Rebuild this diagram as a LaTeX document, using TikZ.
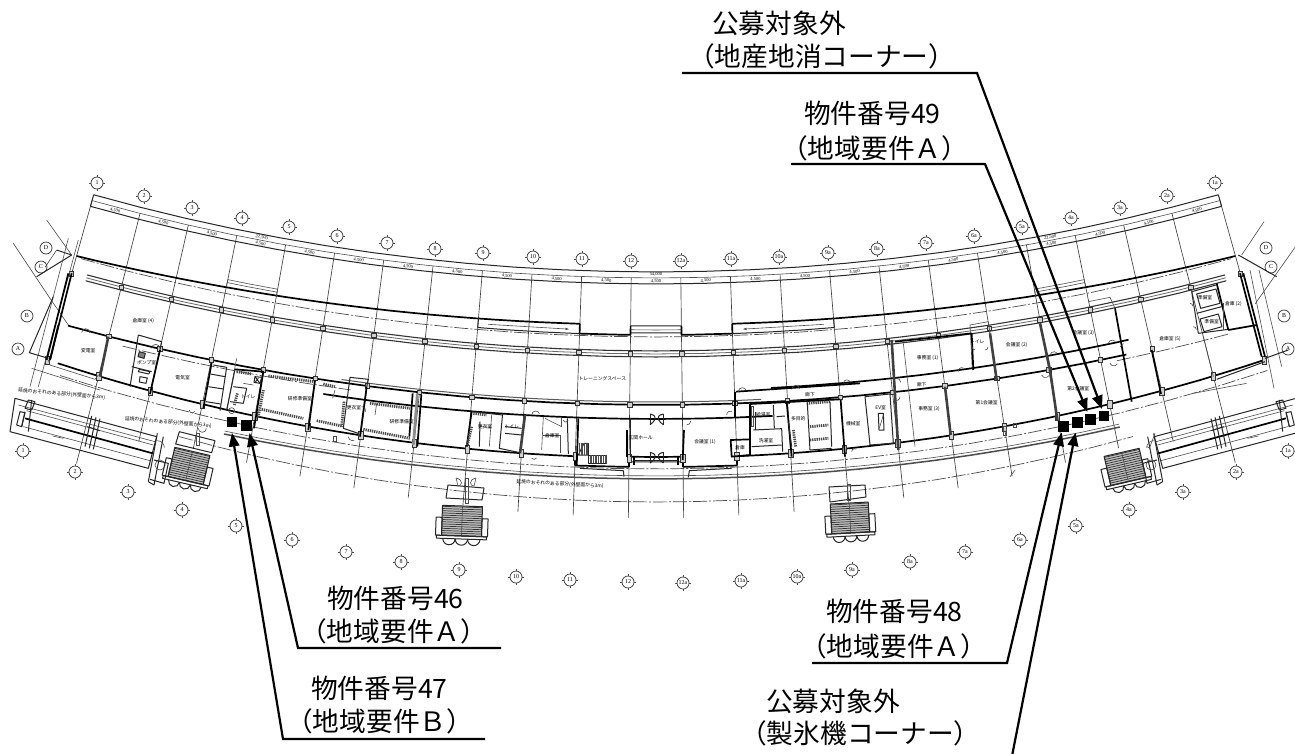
\documentclass[tikz,border=0pt]{standalone}
\usepackage{fontspec}
\setmainfont{Noto Sans CJK JP}
\newfontfamily\bubfont{Liberation Serif}
\usetikzlibrary{arrows.meta,calc}
\newcommand{\PP}[2]{({90+1.358*(#1)}:{#2})}
\newcommand{\AR}[4]{\draw[#1] plot[domain=#2:#3,samples=25,variable=\q] ({90+1.358*\q}:{#4});}
\newcommand{\lab}[3]{\node[lbl] (#1) at #2 {#3};}
\newcommand{\stairs}[3]{%
  \begin{scope}[shift={#1},rotate=#2]
    \fill[black!25] (-#3,-15) rectangle (#3,15);
    \foreach \k in {-14,-11.8,...,15}{\draw[black!80,line width=.7] (-#3,\k) -- (#3,\k);}
    \draw[med] (-#3,-15) rectangle (#3,15);
    \draw[thn] (0,-15) -- (0,15);
    \draw[med] (-#3-5,15) -- (#3+5,15) -- (#3+5,18) -- (-#3-5,18) -- cycle;
    \foreach \k in {-1,0,1}{\draw[med] ({\k*#3*.62+#3*.31},18) arc[start angle=0,end angle=180,radius={#3*.31}];}
    \draw[med] (-#3-6,-3) rectangle (-#3,15);
    \draw[med] (#3,-3) rectangle (#3+6,15);
  \end{scope}}
\newcommand{\terrace}{%
  \begin{scope}[z1]
    \draw[med] (45,685) -- (470,800) -- (445,895) -- (30,785) -- cycle;
    \draw[thn] (55,705) -- (465,815);
    \draw[thn] (80,722) -- (460,825);
    \draw[wall] (75,745) -- (458,850);
    \draw[thn] (70,770) -- (450,872);
    \draw[med] (75,725) -- (65,770);
    \draw[med] (60,725) -- (75,728) -- (65,770) -- (50,765) -- cycle;
    \draw[med] (95,690) -- (85,785);
    \draw[med] (85,690) -- (105,695) -- (95,720) -- (75,715) -- cycle;
    \draw[med] (275,738) -- (255,830);
    \draw[med] (288,742) -- (268,835);
    \draw[med] (300,746) -- (280,838);
    \draw[med] (262,770) -- (300,782);
    \draw[med] (472,790) -- (445,935);
    \draw[med] (490,800) -- (462,945);
    \draw[med] (445,935) -- (462,945);
    \draw[med] (462,870) -- (505,880) -- (492,940) -- (450,928);
    \draw[thn] (480,885) circle[radius=15];
    \draw[thn] (472,812) arc[start angle=90,end angle=0,radius=7pt];
    \draw[thn] (158,798) -- (190,805);
  \end{scope}}
\tikzset{
  wall/.style={black,line width=1.7,line join=round},
  med/.style={black!85,line width=1,line join=round},
  thn/.style={black!70,line width=.6},
  dd/.style={black!70,line width=.7,dash pattern=on 14pt off 2pt on 2pt off 2pt},
  bead/.style={black!70,line width=2.8,dash pattern=on 1.3pt off .9pt},
  dbl/.style={black!75,line width=2.6},
  bub/.style={circle,draw=black!80,line width=.7,minimum size=12,inner sep=0,font=\bubfont\fontsize{6}{6}\selectfont},
  lbl/.style={anchor=base west,inner sep=0,font=\fontsize{26.7}{30}\selectfont,text=black},
  tiny/.style={inner sep=0,text=black,font=\fontsize{4.8}{5}\selectfont},
  dim/.style={inner sep=0,text=black,font=\bubfont\fontsize{4.5}{5}\selectfont},
  sqb/.style={fill=black,draw=none,inner sep=0,minimum width=10.6,minimum height=10.6},
  lead/.style={black,line width=2.2,line join=miter},
  arrw/.style={lead,-{Triangle[length=13.5pt,width=10.5pt]}},
  z1/.style={shift={(0,170)},x=0.33333pt,y=-0.33333pt},
  z2/.style={shift={(430,230)},x=0.33333pt,y=-0.33333pt},
  z3/.style={shift={(860,170)},x=0.33333pt,y=-0.33333pt}
}
\begin{document}
\begin{tikzpicture}[x=1pt,y=-1pt]
\useasboundingbox (0,0) rectangle (1295,753);
\clip (0,0) rectangle (1295,753);
\fill[white] (0,0) rectangle (1295,753);

% ---------- concentric geometry ----------
\begin{scope}[shift={(656,-1817)}]
  % column lines
  \foreach \u/\rr in {11.5/2172,-11.5/2172,10.5/2353,-10.5/2352,9.5/2317,-9.5/2317,8.5/2312,-8.5/2312,7.5/2316,-7.5/2316,6.5/2321,-6.5/2321,5.5/2325,-5.5/2325,4.5/2328,-4.5/2328,3.5/2331,-3.5/2331,2.5/2333,-2.5/2333,1.5/2334,-1.5/2334,.5/2335,-.5/2335}{
    \draw[black!75,line width=.65] \PP{\u}{2095} -- \PP{\u}{\rr};
  }
  \draw[med] \PP{11.5}{2089} -- \PP{11.5}{2101};
  \draw[med] \PP{-11.5}{2089} -- \PP{-11.5}{2101};
  % dimension lines
  \AR{med}{11.5}{-11.5}{2089}
  \AR{thn}{11.5}{-11.5}{2095}
  \AR{med}{11.5}{-11.5}{2101}
  \foreach \u in {-11,...,11}{
    \pgfmathsetmacro\ang{-1.358*\u}
    \node[dim,rotate=\ang] (dm\u) at \PP{\u}{2098.5} {4,500};
  }
  \node[dim] (dm0a) at \PP{0}{2091.8} {54,000};
  \node[dim,rotate=-10.9] (dm4a) at \PP{8}{2091.8} {22,500};
  \node[dim,rotate=10.9] (dm4b) at \PP{-8}{2091.8} {22,500};
  % fascia with ramps
  \AR{wall}{11.5}{1.5}{2142+.08*\q*\q}
  \draw[wall] \PP{1.5}{2142} -- \PP{1.5}{2152};
  \AR{wall}{1.5}{.5}{2152}
  \draw[wall] \PP{.5}{2152} -- \PP{.5}{2143};
  \AR{med}{.5}{-.5}{2143}
  \AR{thn}{.5}{-.5}{2147}
  \AR{med}{.5}{-.5}{2150}
  \draw[wall] \PP{-.5}{2143} -- \PP{-.5}{2152};
  \AR{wall}{-.5}{-1.5}{2152}
  \draw[wall] \PP{-1.5}{2152} -- \PP{-1.5}{2142};
  \AR{wall}{-1.5}{-11.5}{2142+.08*\q*\q}
  % ramps
  \AR{med}{3.5}{1.5}{2152}
  \AR{med}{-1.5}{-3.5}{2152}
  \draw[med] \PP{3.5}{2143} -- \PP{3.5}{2152};
  \draw[med] \PP{-3.5}{2143} -- \PP{-3.5}{2152};
  \draw[thn,-{Latex[length=4pt,width=2.5pt]}] \PP{3.3}{2148} -- \PP{1.7}{2148};
  \draw[thn,-{Latex[length=4pt,width=2.5pt]}] \PP{-3.3}{2148} -- \PP{-1.7}{2148};
  \foreach \s in {1,-1}{
    \AR{thn}{8.5*\s}{7.5*\s}{2140}
    \AR{thn}{8.5*\s}{7.5*\s}{2143}
    \draw[thn] \PP{8.5*\s}{2140} -- \PP{8.5*\s}{2147};
    \draw[thn] \PP{7.5*\s}{2140} -- \PP{7.5*\s}{2147};
  }
  \AR{dd}{11.4}{-11.4}{2154}
  % curtain wall
  \AR{black!80,line width=1.1}{11.2}{-11.2}{2168}
  \AR{black!60,line width=.8}{11.2}{-11.2}{2171}
  \AR{black!80,line width=1.1}{11.2}{-11.2}{2174}
  % inner walls
  \AR{wall}{11.3}{-9}{2222}
  \AR{black!65,line width=1}{6}{-2}{2219}
  \AR{wall}{6.3}{-2.2}{2236}
  \AR{wall}{-2.2}{-9.1}{2208}
  \AR{dd}{10.2}{5.8}{2228}
  \AR{dd}{-8.8}{-11}{2226}
  % south wall
  \AR{wall}{11.3}{1.5}{2275-.11*\q*\q}
  \draw[wall] \PP{1.5}{2275} -- \PP{1.5}{2284};
  \AR{wall}{1.5}{.5}{2284}
  \draw[wall] \PP{.5}{2284} -- \PP{.5}{2274};
  \AR{wall}{.5}{-.5}{2274}
  \AR{med}{.5}{-.5}{2279}
  \draw[wall] \PP{-.5}{2274} -- \PP{-.5}{2284};
  \AR{wall}{-.5}{-1.5}{2284}
  \draw[wall] \PP{-1.5}{2284} -- \PP{-1.5}{2275};
  \AR{wall}{-1.5}{-11.5}{2275-.11*\q*\q}
  % outer site lines
  \AR{dd}{11.2}{-11.5}{2286-.11*\q*\q}
  \AR{black!70,line width=1.5}{8}{-8.6}{2296-.06*\q*\q}
  \AR{thn}{8}{-8.6}{2293-.06*\q*\q}
  \AR{dd}{8.8}{-8.8}{2319-.2*\q*\q}
  % column squares
  \foreach \u in {-11.5,-10.5,...,11.5}{
    \draw[black!80,line width=.65,fill=black!18] \PP{\u}{2171} ++(-2.2,-2.2) rectangle ++(4.4,4.4);
  }
  \foreach \u in {-9.5,-8.5,...,10.5}{
    \draw[black!80,line width=.65,fill=black!18] \PP{\u}{2222} ++(-2.2,-2.2) rectangle ++(4.4,4.4);
  }
  \foreach \u in {-11.5,-10.5,...,11.5}{
    \pgfmathsetmacro\rs{2275-.11*\u*\u}
    \draw[black!80,line width=.65,fill=black!18] \PP{\u}{\rs} ++(-2.2,-3.5) rectangle ++(4.4,8);
  }
\end{scope}

% ---------- left wing ----------
\begin{scope}[z1]
  \draw[med] (215,255) -- (110,320);
  \draw[med] (170,240) -- (215,255);
  \draw[thn] (170,240) -- (135,292);
  \draw[thn] (140,150) -- (215,255);
  \draw[thn] (40,220) -- (150,385) -- (205,465);
  \draw[thn] (205,205) -- (90,650);
  \draw[thn] (235,210) -- (115,650);
  \draw[wall] (215,310) -- (150,570);
  \draw[wall] (205,310) -- (140,570);
  \draw[med] (160,380) -- (88,548) -- (145,565);
  \draw[thn] (95,595) -- (300,660);
  \draw[thn] (150,585) -- (285,628) -- (295,615);
  \draw[thn] (150,585) -- (145,570);
  % thick partitions
  \draw[wall] (175,465) -- (150,570);
  \draw[dbl] (325,500) -- (300,620);
  \draw[med] (415,495) -- (390,650);
  \draw[med] (415,495) -- (485,515) -- (480,540);
  \draw[wall] (480,540) -- (450,672);
  \draw[med] (395,590) -- (455,605);
  \fill[black!50] (418,545) -- (436,550) -- (432,565) -- (414,560) -- cycle;
  \draw[med] (418,545) -- (436,550) -- (432,565) -- (414,560) -- cycle;
  \draw[med] (418,598) -- (450,605) -- (446,612) -- (415,605) -- cycle;
  \draw[med] (420,620) -- (442,624) -- (438,640) -- (418,636) -- cycle;
  \draw[wall] (635,578) -- (610,715);
  % stairs near toilets
  \draw[med] (640,585) -- (680,592) -- (660,722);
  \draw[med] (632,612) -- (675,620);
  \draw[med] (625,650) -- (670,657);
  \draw[med] (618,695) -- (662,702);
  \draw[thn] (710,565) -- (680,720);
  % toilet block
  \draw[wall] (705,598) -- (790,605) -- (762,775);
  \draw[med] (705,598) -- (680,722);
  \draw[med] (700,650) -- (740,655) -- (730,700) -- (690,695);
  \draw[med] (765,620) -- (785,622) -- (780,640) -- (762,637) -- cycle;
  \draw[med] (765,620) -- (780,640);
  \draw[med] (775,625) -- (765,637);
  \draw[bead] (710,605) -- (755,612);
  \draw[bead] (790,660) -- (775,740);
  \draw[bead] (712,670) -- (703,705);
  \draw[thn] (695,722) circle[radius=9];
  \draw[thn] (760,645) -- (730,640);
  \draw[bead] (805,618) -- (945,635);
  \draw[bead] (785,718) -- (910,745);
  \draw[bead] (950,752) -- (1025,768);
  \draw[bead] (970,642) -- (1005,650);
  \draw[bead] (1032,695) -- (1025,770);
  \draw[bead] (1110,700) -- (1230,715);
  \draw[bead] (1090,778) -- (1230,805);
  % rooms
  \draw[wall] (945,632) -- (925,780);
  \draw[wall] (1100,650) -- (1080,800);
  \draw[med] (1050,622) -- (1105,628) -- (1100,650);
  \draw[med] (1050,622) -- (1030,775) -- (1075,790);
  \draw[dbl,black!45] (1252,670) -- (1240,825);
  \draw[wall] (1238,670) -- (1228,800);
  \draw[wall] (1264,675) -- (1252,830);
  \draw[thn] (1005,660) -- (998,685);
  \draw[thn] (1130,700) -- (1125,735);
  \draw[thn] (1000,800) rectangle (1010,815);
  % doors
  \draw[thn] (245,488) arc[start angle=180,end angle=0,radius=4pt];
  \draw[thn] (455,535) arc[start angle=180,end angle=0,radius=4pt];
  \draw[thn] (1085,710) arc[start angle=90,end angle=-20,radius=4pt];
  \draw[thn] (1045,800) arc[start angle=180,end angle=300,radius=4pt];
  \draw[thn] (568,720) arc[start angle=180,end angle=330,radius=3pt];
  % terrace stair top box
  \draw[med] (538,785) -- (645,812) -- (635,848) -- (527,822) -- cycle;
  \draw[thn] (595,775) arc[start angle=180,end angle=360,radius=4pt];
  \draw[thn] (590,790) rectangle (598,825);
  % tiny labels
  \node[tiny] (lz1a) at (430,453) {倉庫室 (4)};
  \node[tiny] (lz1b) at (265,543) {変電室};
  \node[tiny] (lz1c) at (440,578) {ポンプ室};
  \node[tiny] (lz1d) at (548,622) {電気室};
  \node[tiny] (lz1e) at (900,687) {研修準備室};
  \node[tiny] (lz1f) at (1205,755) {研修準備室};
  \node[tiny] (lz1g) at (745,680) {トイレ};
  \node[tiny] (lz1h) at (1062,712) {更衣室};
  \node[tiny,rotate=-5] (lz1i) at (185,672) {延焼のおそれのある部分(外壁面から3m)};
  \node[tiny,rotate=-5] (lz1j) at (505,757) {延焼のおそれのある部分(外壁面から3m)};
\end{scope}
\terrace
\stairs{(189,466)}{-13}{18}

% ---------- centre ----------
\begin{scope}[z2]
  \draw[wall] (125,545) -- (110,650);
  \draw[dbl] (285,555) -- (270,670);
  \draw[med] (218,550) -- (208,655) -- (270,668);
  \draw[med] (125,545) -- (218,555);
  \draw[bead] (125,590) -- (112,645);
  \draw[bead] (130,550) -- (170,555);
  \draw[med] (150,575) -- (148,650);
  \draw[thn] (150,590) -- (185,592);
  \draw[thn] (185,555) -- (178,650);
  \draw[med] (225,590) -- (275,595);
  \draw[med] (225,610) -- (275,615);
  \draw[thn] (340,560) -- (335,660);
  \draw[med] (412,565) -- (415,672);
  \draw[thn] (340,615) -- (390,615) -- (390,670);
  \draw[thn] (395,565) -- (395,590);
  \draw[thn] (345,565) -- (395,590);
  \draw[wall] (445,565) -- (440,705);
  \draw[wall] (592,600) -- (592,682);
  \draw[wall] (762,600) -- (758,690);
  \draw[med] (600,565) -- (600,680);
  \draw[wall] (612,680) -- (612,705);
  \draw[wall] (745,680) -- (745,705);
  \draw[med] (610,690) -- (745,690);
  \draw[wall] (915,485) -- (915,565);
  \draw[wall] (918,485) -- (1290,460);
  \draw[wall] (902,630) -- (960,628) -- (960,675) -- (905,680) -- cycle;
  \draw[wall] (960,522) -- (960,675);
  \draw[wall] (960,522) -- (1230,508);
  \draw[wall] (1070,515) -- (1085,680);
  \draw[med] (970,600) -- (1055,596) -- (1058,665);
  \draw[med] (965,650) -- (1055,645);
  \draw[med] (975,545) -- (975,600);
  \draw[med] (1030,525) -- (1033,595);
  \draw[med] (1040,560) -- (1065,558);
  \draw[med] (1075,575) -- (1085,650);
  \draw[bead] (1090,600) -- (1097,650);
  \draw[bead] (1130,520) -- (1200,515);
  \draw[bead] (1140,590) -- (1195,585);
  \draw[bead] (1140,630) -- (1195,625);
  \draw[med] (1132,520) -- (1140,660);
  \draw[med] (1200,515) -- (1205,650);
  \draw[med] (1140,660) -- (1205,655);
  \draw[wall] (1232,510) -- (1245,680);
  \draw[thn] (970,530) rectangle (965,590);
  \draw[med] (462,640) -- (475,640) -- (475,675) -- (445,675) -- cycle;
  \draw[med] (475,675) -- (530,675) -- (530,700) -- (475,700) -- cycle;
  \foreach \k in {448,453,...,475}{\draw[thn] (\k,640) -- (\k,675);}
  \foreach \k in {480,485,...,530}{\draw[thn] (\k,675) -- (\k,700);}
  \draw[med] (450,715) -- (580,722) -- (582,740);
  \draw[med] (775,742) -- (778,722) -- (905,715);
  % butterfly doors
  \foreach \cy in {568,683}{
    \draw[med] (660,\cy-16) .. controls (690,\cy-10) and (670,\cy+10) .. (660,\cy+16);
    \draw[med] (700,\cy-16) .. controls (670,\cy-10) and (690,\cy+10) .. (700,\cy+16);
    \draw[med] (660,\cy-16) -- (660,\cy+16);
    \draw[med] (700,\cy-16) -- (700,\cy+16);
  }
  % doors
  \draw[thn] (305,555) arc[start angle=180,end angle=20,radius=4pt];
  \draw[thn] (925,485) arc[start angle=180,end angle=10,radius=4pt];
  \draw[thn] (1085,478) arc[start angle=180,end angle=10,radius=4pt];
  \draw[thn] (1240,460) arc[start angle=180,end angle=10,radius=3.5pt];
  \draw[thn] (890,555) arc[start angle=180,end angle=70,radius=4pt];
  \draw[thn] (400,570) arc[start angle=190,end angle=340,radius=2.5pt];
  \draw[thn] (770,585) arc[start angle=270,end angle=360,radius=4pt];
  \draw[thn] (1265,665) arc[start angle=180,end angle=60,radius=3pt];
  \draw[thn] (305,685) arc[start angle=220,end angle=330,radius=3pt];
  % tiny labels
  \node[tiny] (lz2a) at (517,447) {トレーニングスペース};
  \node[tiny] (lz2b) at (632,622) {玄関ホール};
  \node[tiny] (lz2c) at (825,637) {会議室 (1)};
  \node[tiny] (lz2d) at (367,617) {倉庫室};
  \node[tiny] (lz2e) at (165,590) {更衣室};
  \node[tiny] (lz2f) at (245,590) {トイレ};
  \node[tiny] (lz2g) at (1000,553) {給湯室};
  \node[tiny] (lz2h) at (1008,632) {洗濯室};
  \node[tiny] (lz2i) at (930,653) {倉庫};
  \node[tiny] (lz2j) at (1105,565) {多目的};
  \node[tiny] (lz2k) at (1140,495) {廊下};
  \node[tiny] (lz2l) at (1270,580) {機械室};
  \node[tiny,rotate=-3] (lz2n) at (390,762) {延焼のおそれのある部分(外壁面から3m)};
\end{scope}
\stairs{(462,521)}{-2}{20}
\stairs{(850,518)}{3}{19}
\draw[med] (448,485) -- (484,488) -- (482,500) -- (446,498) -- cycle;
\draw[thn] (465,478) rectangle (468,503);
\draw[thn] (456,478) .. controls (464,480) and (462,486) .. (458,486);
\draw[thn] (476,478) .. controls (468,480) and (470,486) .. (474,486);
\draw[thn] (456,478) -- (458,486);
\draw[thn] (476,478) -- (474,486);
\draw[med] (829,487) -- (865,485) -- (866,497) -- (830,502) -- cycle;
\draw[thn] (847,484) rectangle (850,500);

% ---------- right wing ----------
\begin{scope}[z3]
  \draw[dbl] (95,510) -- (115,840);
  \draw[med] (15,680) -- (90,672) -- (100,820) -- (30,825) -- cycle;
  \draw[med] (55,730) -- (70,730) -- (72,780) -- (57,780) -- cycle;
  \draw[thn] (70,735) -- (58,775);
  \draw[thn] (130,520) -- (165,830);
  \draw[thn] (330,465) -- (385,455) -- (390,490);
  \draw[thn] (330,465) -- (337,600);
  \draw[wall] (105,515) -- (335,490);
  \draw[wall] (335,490) -- (340,600);
  \draw[dbl] (390,490) -- (410,630);
  \draw[dbl] (540,460) -- (570,600);
  \draw[dbl] (570,600) -- (592,750);
  \draw[dbl] (255,650) -- (272,795);
  \draw[wall] (765,415) -- (815,695);
  \draw[wall] (875,540) -- (903,672);
  \draw[thn] (1030,500) -- (1060,620);
  \draw[thn] (685,395) -- (750,382) -- (765,415);
  \draw[med] (995,365) -- (1068,345);
  \draw[med] (1010,430) -- (1085,410);
  \draw[med] (1015,490) -- (1105,478);
  \draw[med] (1010,372) -- (1068,357) -- (1080,400) -- (1022,415) -- cycle;
  \draw[med] (1020,447) -- (1075,432) -- (1086,470) -- (1032,485) -- cycle;
  \draw[med] (995,365) -- (1015,490);
  \draw[wall] (1070,340) -- (1105,480);
  \draw[wall] (1105,480) -- (1190,465);
  \draw[thn] (1090,480) -- (1090,400);
  % corner
  \draw[med] (1135,255) -- (1250,320);
  \draw[thn] (1145,255) -- (1212,155);
  \draw[thn] (1185,402) -- (1305,232);
  \draw[wall] (1140,310) -- (1205,560);
  \draw[wall] (1150,310) -- (1215,560);
  \draw[thn] (1170,300) -- (1242,655);
  \draw[thn] (1197,300) -- (1265,590);
  \draw[med] (1215,565) -- (1285,540);
  \draw[med] (1070,628) -- (1215,575);
  \draw[thn] (1000,670) -- (1160,640);
  % column ticks
  \draw[thn] (430,770) rectangle (440,795);
  \draw[thn] (460,760) rectangle (470,772);
  \draw[thn] (465,900) -- (450,920);
  % doors
  \draw[thn] (110,625) arc[start angle=90,end angle=0,radius=4pt];
  \draw[thn] (120,680) arc[start angle=0,end angle=-100,radius=4pt];
  \draw[thn] (295,605) arc[start angle=190,end angle=60,radius=3.5pt];
  \draw[thn] (570,555) arc[start angle=170,end angle=40,radius=4pt];
  \draw[thn] (745,520) arc[start angle=170,end angle=40,radius=4pt];
  \draw[thn] (790,520) arc[start angle=-10,end angle=-80,radius=4pt];
  \draw[thn] (345,540) arc[start angle=270,end angle=170,radius=3pt];
  \draw[thn] (375,540) arc[start angle=270,end angle=360,radius=3pt];
  \draw[thn] (545,615) arc[start angle=200,end angle=330,radius=4pt];
  \draw[thn] (750,580) arc[start angle=200,end angle=330,radius=4pt];
  \draw[thn] (990,400) arc[start angle=90,end angle=0,radius=3pt];
  \draw[thn] (1000,470) arc[start angle=90,end angle=0,radius=3pt];
  % tiny labels
  \node[tiny] (lz3a) at (203,565) {事務室 (1)};
  \node[tiny] (lz3b) at (470,525) {会議室 (2)};
  \node[tiny] (lz3c) at (670,490) {会議室 (3)};
  \node[tiny] (lz3d) at (930,507) {倉庫室 (5)};
  \node[tiny] (lz3e) at (207,717) {事務室 (3)};
  \node[tiny] (lz3f) at (380,697) {第1会議室};
  \node[tiny] (lz3g) at (655,655) {第2会議室};
  \node[tiny] (lz3h) at (1035,382) {準備室};
  \node[tiny] (lz3i) at (1055,455) {準備室};
  \node[tiny] (lz3j) at (1120,403) {倉庫 (2)};
  \node[tiny] (lz3k) at (185,643) {廊下};
  \node[tiny] (lz3l) at (352,515) {トイレ};
  \node[tiny] (lz3m) at (62,712) {EV室};
\end{scope}
\begin{scope}[shift={(1311,0)},xscale=-1]
  \terrace
\end{scope}
\stairs{(1125,467)}{13}{18}
\begin{scope}[z3]
  \draw[thn] (885,790) -- (870,830);
  \draw[thn] (860,830) arc[start angle=90,end angle=0,radius=4pt];
\end{scope}

% ---------- grid bubbles ----------
\foreach \x/\y/\t in {97/183/1,144/196/2,192/208/3,242/218/4,289/227/5,337/236/6,387/243/7,435/249/8,483/253/9,533/257/10,582/259/11,631/261/12,681/261/12a,731/259/11a,779/257/10a,828/253/9a,877/249/8a,926/243/7a,974/236/6a,1022/227/5a,1071/218/4a,1120/208/3a,1167/196/2a,1215/183/1a}{
  \node[bub] (t\t) at (\x,\y) {\t};
  \draw[thn] (t\t.north) -- ++(0,-2); \draw[thn] (t\t.south) -- ++(0,2);
  \draw[thn] (t\t.east) -- ++(2,0); \draw[thn] (t\t.west) -- ++(-2,0);
}
\foreach \x/\y/\t in {23/451/1,75/472/2,128/492/3,182/510/4,236/526/5,292/540/6,346/552/7,401/562/8,459/570/9,516/577/10,570/580/11,628/582/12,683/583/12a,741/581/11a,797/577/10a,852/570/9a,910/562/8a,965/552/7a,1020/540/6a,1076/526/5a,1129/510/4a,1183/492/3a,1236/472/2a,1288/451/1a}{
  \node[bub] (s\t) at (\x,\y) {\t};
  \draw[thn] (s\t.north) -- ++(0,-2); \draw[thn] (s\t.south) -- ++(0,2);
  \draw[thn] (s\t.east) -- ++(2,0); \draw[thn] (s\t.west) -- ++(-2,0);
}
\foreach \x/\y/\t/\n in {46/248/D/la,41/267/C/lb,27/316/B/lc,18/349/A/ld,1266/248/D/ra,1271/267/C/rb,1284/316/B/rc,1288/349/A/rd}{
  \node[bub] (\n) at (\x,\y) {\t};
}

% ---------- marked units ----------
\node[sqb] (sq47) at (232,422) {};
\node[sqb] (sq46) at (246.5,425.5) {};
\node[sqb] (sq48) at (1063.7,426.3) {};
\node[sqb] (sqice) at (1077.4,422.2) {};
\node[sqb] (sq49) at (1090.7,419.5) {};
\node[sqb] (sqloc) at (1104,416) {};

% ---------- leaders ----------
\coordinate (a1) at (682,73);   \coordinate (a2) at (977,73);   \coordinate (a3) at (1102,409);
\coordinate (b1) at (791,164);  \coordinate (b2) at (985,164);  \coordinate (b3) at (1087.5,412);
\coordinate (c1) at (501,648);  \coordinate (c2) at (298,648);  \coordinate (c3) at (249.5,433);
\coordinate (d1) at (485,739);  \coordinate (d2) at (283,739);  \coordinate (d3) at (232,433);
\coordinate (e1) at (812,663);  \coordinate (e2) at (1007,663); \coordinate (e3) at (1061.7,432.5);
\coordinate (f2) at (1012,756); \coordinate (f3) at (1075.5,432.5);
\draw[arrw] (a1) -- (a2) -- (a3);
\draw[arrw] (b1) -- (b2) -- (b3);
\draw[arrw] (c1) -- (c2) -- (c3);
\draw[arrw] (d1) -- (d2) -- (d3);
\draw[arrw] (e1) -- (e2) -- (e3);
\draw[arrw] (f2) -- (f3);

% ---------- labels ----------
\lab{t1}{(712,33)}{公募対象外}
\lab{t2}{(688,66)}{（地産地消コーナー）}
\lab{t3}{(804,123)}{物件番号49}
\lab{t4}{(781,158)}{（地域要件Ａ）}
\lab{t5}{(327,608)}{物件番号46}
\lab{t6}{(300,641)}{（地域要件Ａ）}
\lab{t7}{(311,698)}{物件番号47}
\lab{t8}{(286,731)}{（地域要件Ｂ）}
\lab{t9}{(826,621)}{物件番号48}
\lab{t10}{(800,656)}{（地域要件Ａ）}
\lab{t11}{(766,711)}{公募対象外}
\lab{t12}{(740,743)}{（製氷機コーナー）}
\end{tikzpicture}
\end{document}
